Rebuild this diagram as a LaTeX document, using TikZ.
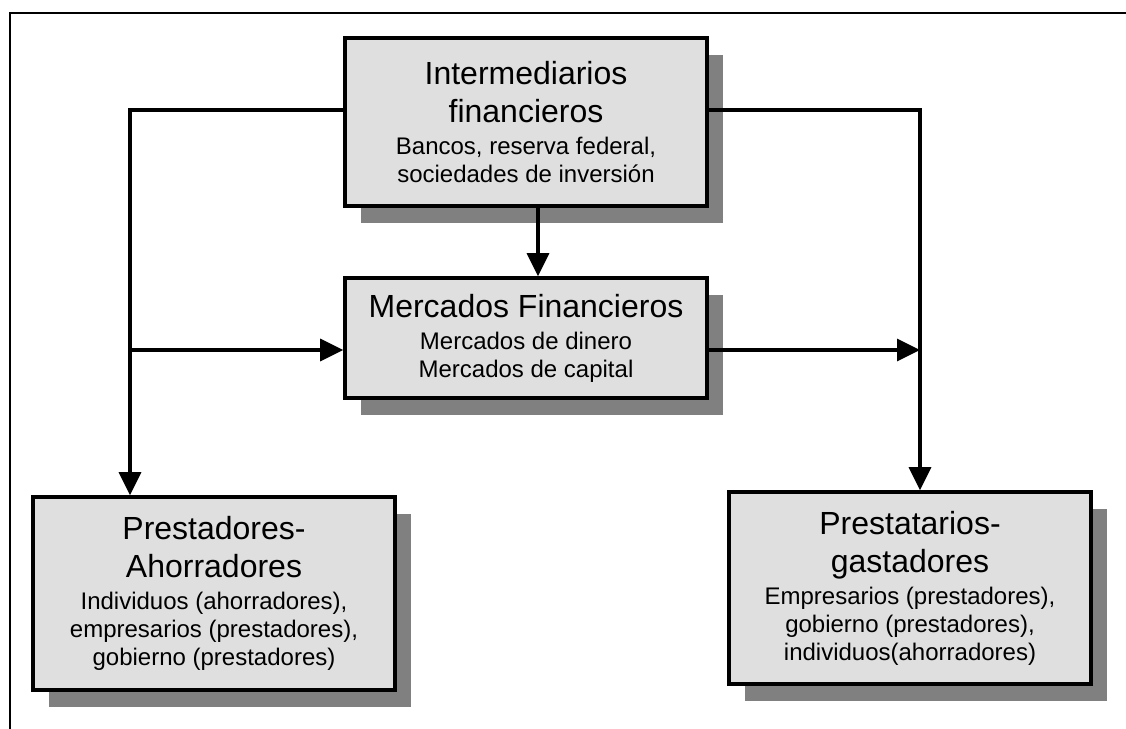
\documentclass[tikz,border=0pt]{standalone}
\usepackage{fontspec}
\setmainfont{Liberation Sans}
\usetikzlibrary{arrows.meta,shadows}
\definecolor{boxfill}{HTML}{DFDFDF}
\definecolor{shadowgray}{HTML}{808080}
\newcommand\mytitle{\fontsize{32}{34}\selectfont}
\newcommand\mysub{\fontsize{24}{28}\selectfont}
\begin{document}
\begin{tikzpicture}[x=1pt,y=-1pt,
  boxnode/.style={draw=black, line width=3.6pt, fill=boxfill, rectangle,
    minimum width=362pt, align=center, inner sep=0pt,
    font=\mysub,
    general shadow={fill=shadowgray, draw=none, shadow xshift=16pt, shadow yshift=-17pt}},
  conn/.style={line width=3.2pt},
  arr/.style={conn, -{Triangle[length=23pt,width=22pt]}}]
\useasboundingbox (0,0) rectangle (1126,728);
% outer frame
\coordinate (fa) at (1140,13);
\coordinate (fb) at (10,13);
\coordinate (fc) at (10,740);
\draw[line width=2.6pt] (fa) -- (fb) -- (fc);
% boxes
\node[boxnode, minimum height=168pt] (inter) at (526,122)
  {{\mytitle Intermediarios}\\[10pt]{\mytitle financieros}\\[4pt]Bancos, reserva federal,\\sociedades de inversión};
\node[boxnode, minimum height=120pt] (merc) at (526,338)
  {{\mytitle Mercados Financieros}\\[4pt]Mercados de dinero\\Mercados de capital};
\node[boxnode, minimum height=193pt] (prest) at (214,593.5)
  {{\mytitle Prestadores-}\\[10pt]{\mytitle Ahorradores}\\[4pt]Individuos (ahorradores),\\empresarios (prestadores),\\gobierno (prestadores)};
\node[boxnode, minimum height=192pt] (presta) at (910,588)
  {{\mytitle Prestatarios-}\\[10pt]{\mytitle gastadores}\\[4pt]Empresarios (prestadores),\\gobierno (prestadores),\\individuos(ahorradores)};
% junctions
\coordinate (L) at (130,110);
\coordinate (Lm) at (130,350);
\coordinate (R) at (920,110);
\coordinate (Rm) at (920,350);
\coordinate (C) at (538,0);
% connectors
\draw[arr] (L -| inter.west) -- (L) -- (L |- prest.north);
\draw[arr] (R -| inter.east) -- (R) -- (R |- presta.north);
\draw[arr] (C |- inter.south) -- (C |- merc.north);
\draw[arr] (Lm) -- (Lm -| merc.west);
\draw[arr] (Lm -| merc.east) -- (Rm);
\end{tikzpicture}
\end{document}
